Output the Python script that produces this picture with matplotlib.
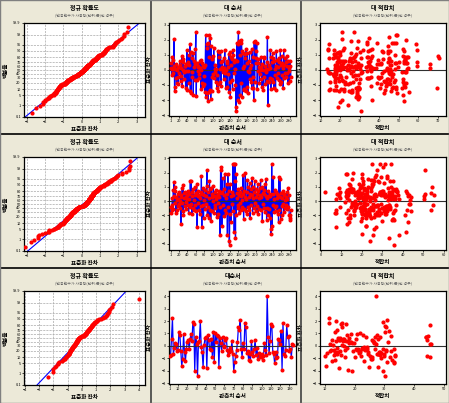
import matplotlib
matplotlib.use('Agg')
import matplotlib.pyplot as plt
from matplotlib.lines import Line2D
import numpy as np
from statistics import NormalDist

plt.rcParams['font.family'] = ['Noto Sans CJK KR', 'DejaVu Sans']

# standardized residuals in observation order, three models
resid1 = [
    0.12, 0.46, -0.31, 0.05, 0.83, -0.18, 0.64, 0.27, 2.02, -1.38, -1.12, 0.09, -0.57, 0.38, -0.86, -0.03, 0.21, -0.44, -0.95, 0.16,
    -0.22, 0.58, 0.33, -0.76, 0.14, -0.41, 0.91, -1.07, 0.49, 0.02, 0.71, -0.13, -0.62, 0.24, 0.24, -1.21, 0.37, -0.08, 1.29, -1.33,
    0.52, -0.06, -0.88, 0.97, 0.31, 1.68, -1.41, 1.18, -1.52, 0.79, -0.15, -0.47, 1.09, -1.63, 0.61, 0.19, 0.42, -0.69, 1.36, 2.51,
    -1.71, 0.45, -0.66, 0.26, -0.09, 0.21, -0.28, -0.54, 0.57, 0.11, 0.68, -1.26, -0.02, -0.84, 0.48, -1.09, 0.23, -0.93, 0.17, -0.39,
    -1.44, 0.29, 2.31, -1.82, 1.42, 1.73, -1.53, 1.81, -2.09, 0.86, -1.49, 2.28, -1.31, 2.12, -1.92, 1.61, -1.37, 0.74, -0.48, 0.89,
    -0.27, 1.47, -0.52, 0.06, -0.17, 0.32, -0.78, 0.08, -1.17, -0.36, -0.91, 1.27, -1.39, 0.87, 1.19, 0.07, -0.79, 1.24, -1.08, 0.53,
    0.18, 0.62, -0.12, -0.04, 0.11, -0.59, 0.76, 1.32, -0.23, 0.02, -1.19, 0.43, -1.13, 0.56, 0.19, -0.29, 1.08, -1.43, -0.77, 1.16,
    -1.79, 0.88, 0.34, -0.67, 0.72, -1.28, 1.34, 1.01, 0.51, -0.21, 0.04, 0.63, -1.01, -2.48, -2.71, 1.79, 0.58, -2.01, 1.69, 2.49,
    -2.12, 1.88, -1.67, 0.96, 1.77, -0.89, 1.97, 1.26, -1.81, 1.14, 0.14, -1.29, 0.28, -1.34, 1.03, 0.77, -1.42, 1.39, 0.47, -1.16,
    1.12, -1.51, -0.08, 0.59, -0.16, 1.21, -0.61, 0.12, -0.82, 0.32, -1.22, 1.41, -0.49, 0.84, -1.18, -1.98, 1.83, -0.81, 1.91, 0.46,
    0.79, 1.28, 1.78, -1.27, 0.44, -0.06, 0.75, 0.17, -0.87, -0.03, -0.26, 0.22, 0.88, -0.58, -1.11, 0.36, 0.01, -1.32, 0.82, -0.46,
    0.78, 0.27, -0.92, 0.07, -0.14, -0.74, 0.55, 2.19, -2.29, 0.04, -0.79, 0.31, 0.13, -0.51, 1.31, -1.24, 0.86, -0.63, 0.49, 1.13,
    -0.83, 0.81, -1.23, 0.57, -0.33, 0.09, -1.36, 0.25, 1.22, -0.53, 0.64, -0.18, 0.18, 0.79, -0.64, 0.52, -0.94, 1.33, 0.29, -0.81,
    0.91, -0.32, 0.47, 0.12, -1.19, 1.29, -0.56, 0.34, -0.21, 0.77, 0.53, -0.47, 0.92, -0.19, 0.26, -0.88, 0.61, -0.07, 0.14, -0.76,
    0.58, 0.24, -0.45,
]
fits1 = [
    17.2, 21.5, 29.4, 44.8, 53.1, 17.6, 25.3, 35.2, 20.9, 28.9, 48.5, 13.4, 33.8, 41.2, 52.6, 18.3, 26.1, 39.5, 45.6, 22.8,
    14.1, 19.4, 30.6, 42.7, 54.8, 17.0, 27.4, 36.1, 50.4, 24.6, 18.9, 31.2, 44.1, 59.3, 21.2, 28.2, 38.7, 46.3, 16.8, 25.9,
    34.5, 45.2, 53.7, 19.8, 29.6, 14.5, 22.1, 41.8, 49.3, 26.8, 18.1, 35.6, 44.5, 52.1, 20.3, 28.5, 40.2, 47.9, 13.6, 21.0,
    29.1, 54.5, 17.5, 25.0, 42.3, 33.5, 45.8, 19.1, 27.9, 36.8, 53.4, 14.9, 23.7, 39.1, 48.9, 17.8, 30.1, 44.3, 20.6, 26.4,
    55.2, 18.6, 49.1, 29.2, 21.8, 33.9, 28.6, 47.6, 52.9, 17.4, 25.6, 48.7, 14.3, 34.9, 29.0, 44.7, 19.6, 42.0, 23.2, 36.4,
    16.6, 28.7, 39.8, 45.4, 53.9, 20.5, 26.7, 35.1, 51.6, 17.1, 24.2, 41.5, 46.1, 19.0, 30.4, 54.1, 22.4, 34.2, 43.6, 18.4,
    27.0, 45.9, 13.8, 20.1, 38.4, 52.3, 25.1, 31.8, 44.9, 17.9, 29.8, 40.8, 53.3, 21.7, 35.8, 47.1, 16.9, 26.2, 43.0, 19.3,
    28.3, 55.0, 34.7, 20.8, 45.3, 29.5, 21.3, 17.3, 44.6, 14.6, 24.8, 39.3, 52.7, 18.7, 30.8, 46.7, 22.6, 36.6, 59.0, 26.9,
    20.0, 29.3, 28.8, 48.2, 48.8, 29.7, 53.6, 44.4, 29.9, 25.4, 21.4, 48.6, 34.4, 17.7, 28.0, 45.0, 24.4, 36.2, 53.0, 29.4,
    18.2, 42.5, 26.5, 35.4, 51.9, 19.7, 30.2, 44.2, 14.7, 23.9, 40.5, 52.4, 17.6, 27.2, 46.5, 21.1, 34.0, 43.3, 25.7, 53.8,
    16.4, 45.7, 38.9, 20.4, 29.0, 33.6, 53.2, 21.6, 25.2, 44.0, 18.0, 49.6, 34.3, 28.4, 46.9, 66.2, 17.4, 42.9, 54.3, 20.7,
    14.2, 27.6, 41.1, 48.4, 53.5, 19.2, 35.0, 45.1, 24.0, 30.0, 52.2, 17.3, 28.1, 39.9, 59.6, 21.9, 33.7, 44.8, 26.0, 18.5,
    47.5, 36.0, 29.7, 53.4, 20.2, 44.1, 17.1, 25.5, 52.8, 34.6, 24.9, 41.7, 18.8, 30.5, 45.5, 59.2, 22.3, 35.3, 46.0, 17.6,
    70.4, 27.8, 48.3, 20.9, 69.9, 13.9, 34.1, 45.8, 25.8, 70.8, 19.5, 41.0, 52.0, 30.7, 18.1, 44.9, 24.5, 35.7, 66.0, 21.3,
    53.0, 28.3, 46.4,
]

resid2 = [
    -0.41, -0.83, -0.62, -0.27, 0.18, -0.55, 0.79, 0.36, 1.31, -0.12, 1.02, 0.68, -0.84, 0.29, -0.66, 0.07, -0.38, 0.51, 0.14, -0.23,
    0.63, -0.49, 0.02, 0.31, -1.61, 0.44, -0.16, 0.92, -0.71, 1.12, -1.01, 0.53, 0.21, -0.35, 0.61, -0.09, 0.26, -0.58, 0.11, 0.39,
    -0.28, 0.74, -0.87, 0.17, 0.49, -0.42, 1.41, -0.19, 1.38, 0.33, -0.93, 0.64, -0.52, 0.83, 0.06, -0.64, 0.41, -0.31, 0.96, -0.73,
    0.54, 1.22, -1.83, 0.32, -0.14, 0.72, -0.61, 0.43, -0.94, 0.22, 0.62, -0.37, 1.79, -1.81, 0.52, -0.26, 0.91, -1.19, 0.41, 0.08,
    -0.53, 0.81, -0.18, 0.34, 1.03, 2.21, -1.02, 0.62, -0.43, 0.19, -1.22, 1.42, -0.63, 0.84, -1.43, 0.89, 0.27, -0.71, 0.52, -0.01,
    1.08, -0.82, 0.38, -0.29, 0.61, -0.51, 0.16, 0.77, -1.11, 0.37, -0.17, 0.48, -0.91, 0.28, 0.69, -0.41, -2.39, 2.18, 0.53, 2.42,
    -1.79, 0.61, 1.59, -0.31, 0.88, -1.04, 0.43, 1.92, -0.62, 0.21, -0.83, 0.51, 1.19, -2.41, 1.88, -0.39, 0.72, -2.79, -3.08, 1.21,
    -0.91, 0.32, -1.51, 0.63, -0.21, 0.42, 2.58, -0.73, 2.61, -2.19, 1.39, 2.62, -2.58, 1.91, -1.01, 0.54, 0.18, -0.52, 0.83, -0.28,
    0.41, -0.81, 0.62, -0.17, 0.33, -0.63, 0.92, 0.09, -0.42, 0.52, 1.81, -1.29, 0.71, -0.54, 0.29, 1.98, -0.72, 0.16, -0.92, 0.61,
    1.48, -0.39, 1.01, 0.27, -0.61, 1.29, -1.18, 0.52, 0.82, -0.27, 0.43, 1.62, -0.81, 0.18, 1.02, -0.49, 0.63, 1.39, -0.16, 0.88,
    -0.69, 0.31, 0.52, -0.38, 1.19, -0.88, 0.71, 0.19, -0.59, 0.42, 0.93, 1.49, -0.62, 0.28, 0.98, -1.39, 0.59, -0.18, 0.81, -0.51,
    0.49, 1.21, -0.79, 0.37, 1.58, -1.31, 0.22, -0.48, 0.69, -0.98, 0.33, -0.57, 0.51, -1.19, 0.38, -2.31, -1.99, 2.59, -1.79, 0.52,
    -0.29, 1.69, -0.78, 0.12, -0.41, 0.79, -0.32, 0.61, -0.68, 0.19, 0.52, -0.89, 0.41, -1.51, 1.71, -0.61, 1.58, 0.29, -1.29, 0.58,
    -0.99, 0.21, -0.38, 0.69, -0.19, 0.41, -0.79, 0.49, 0.08, -0.51, 0.31, -0.29, 0.62, -0.59, 0.17, 0.91, -0.42, 0.39, -0.98, -1.21,
    -1.31, -0.99, -0.61,
]
fits2 = [
    19.5, 7.2, 25.4, 33.1, 12.8, 21.6, 36.2, 9.0, 28.4, 15.3, 22.9, 41.3, 7.0, 19.0, 31.8, 13.5, 26.2, 34.7, 20.4, 43.6,
    2.0, 16.8, 24.1, 35.5, 12.6, 29.3, 20.8, 8.9, 32.4, 14.1, 23.2, 42.2, 18.3, 27.5, 36.9, 11.9, 21.2, 33.8, 7.3, 25.7,
    15.8, 30.5, 19.9, 38.1, 12.9, 24.6, 35.1, 17.6, 28.0, 50.3, 20.1, 9.1, 33.3, 14.6, 26.6, 41.8, 22.3, 36.5, 19.3, 31.0,
    13.2, 25.0, 7.5, 34.2, 21.0, 29.9, 16.2, 43.1, 23.5, 35.8, 12.4, 20.6, 32.1, 26.9, 18.7, 54.8, 14.8, 24.3, 37.6, 21.9,
    30.9, 12.7, 22.5, 34.5, 19.6, 27.2, 41.0, 15.1, 9.2, 33.6, 20.2, 25.9, 36.3, 13.8, 29.6, 18.9, 23.8, 44.0, 31.5, 16.5,
    24.8, 35.2, 12.3, 21.4, 28.8, 19.2, 33.0, 14.4, 26.0, 42.6, 20.9, 7.8, 31.3, 23.0, 36.7, 17.3, 25.3, 50.8, 13.0, 30.3,
    22.1, 34.9, 19.8, 27.8, 15.6, 24.0, 33.7, 12.5, 21.3, 36.0, 29.1, 17.0, 25.6, 38.0, 20.0, 31.7, 14.3, 23.7, 35.9, 18.5,
    26.4, 32.7, 13.7, 22.7, 29.4, 19.4, 34.0, 16.0, 24.9, 41.6, 20.5, 28.6, 33.4, 12.2, 21.7, 53.6, 18.2, 25.1, 36.6, 14.9,
    30.1, 22.0, 34.4, 19.1, 27.0, 13.3, 24.4, 32.9, 20.7, 9.0, 26.8, 35.4, 17.9, 23.3, 31.2, 15.4, 28.2, 36.4, 21.1, 12.6,
    25.2, 33.9, 19.7, 43.9, 23.9, 30.7, 14.0, 21.5, 35.0, 27.3, 18.0, 32.2, 12.1, 24.7, 54.2, 20.3, 29.0, 33.5, 15.9, 22.6,
    35.7, 19.0, 26.3, 31.6, 13.6, 23.4, 37.2, 20.6, 28.3, 16.4, 32.5, 24.2, 7.4, 21.8, 34.3, 19.5, 29.7, 42.9, 14.7, 25.5,
    33.2, 20.4, 27.6, 12.9, 22.8, 35.6, 18.4, 30.0, 24.5, 16.1, 32.8, 21.3, 28.1, 13.4, 36.1, 19.9, 25.8, 31.4, 22.2, 51.0,
    17.1, 29.5, 23.6, 34.6, 14.5, 20.9, 27.1, 33.0, 19.3, 24.0, 12.8, 31.9, 21.6, 42.4, 26.5, 53.9, 15.0, 23.1, 35.3, 20.1,
    28.5, 9.3, 32.3, 18.6, 25.4, 13.1, 22.4, 30.6, 43.4, 19.4, 26.1, 33.1, 16.7, 24.1, 50.5, 21.0, 30.8, 55.0, 14.2, 22.0,
    34.8, 27.4, 20.3,
]

resid3 = [
    -0.82, -0.77, 0.58, 2.21, -0.68, -0.17, 0.26, 0.14, -0.43, -0.31, 1.09, 0.87, -0.38, -1.62, -1.03, 0.92, -0.52, -1.21, -0.22, 0.33,
    0.47, -0.28, 0.54, 0.98, 0.36, 1.91, 1.78, -2.02, 0.69, 0.18, -2.41, 0.29, 0.42, 1.99, -0.13, -0.48, -1.71, 0.03, 0.62, 0.73,
    -1.79, 0.88, 0.51, -0.27, -0.36, 0.59, -0.92, 1.12, -1.28, 1.07, 0.31, 0.91, 0.78, -1.69, 0.67, 0.21, -0.41, 0.72, -0.08, 0.02,
    0.49, 0.61, -0.33, -0.71, -0.53, -0.19, -0.44, 0.39, -0.62, -2.01, -1.32, -0.83, -0.37, 0.28, 1.52, 1.31, 2.09, -0.24, -0.88, 0.27,
    -0.29, 1.88, 1.49, -0.58, -0.42, -1.11, -0.63, -1.19, 0.41, -0.47, -0.79, -0.26, 0.46, -0.73, -0.16, -1.08, -0.57, -0.84, -0.91, -0.69,
    -1.13, -0.81, 0.23, -0.34, -0.76, 4.02, 0.71, -0.61, 0.37, 1.79, 1.61, -0.49, -0.64, -1.41, -0.98, -0.51, -0.93, 0.57, 0.48, 0.17,
    1.21, -1.92, 1.81, -0.67, -0.78, -0.32, 1.69, 0.68, 0.82, -0.39, -0.28, -0.89, 0.11, 0.06,
]
fits3 = [
    10.1, 12.9, 16.4, 11.3, 24.6, 14.2, 19.1, 27.3, 21.4, 13.0, 30.2, 17.5, 15.1, 10.3, 25.5, 18.6, 28.2, 12.3, 22.6, 31.4,
    14.7, 26.8, 16.0, 20.9, 13.6, 29.4, 15.3, 19.0, 23.7, 11.8, 30.2, 26.4, 17.9, 13.8, 24.3, 21.9, 28.0, 15.6, 18.2, 27.0,
    14.8, 22.8, 12.4, 29.6, 16.8, 20.3, 25.7, 13.2, 30.9, 21.7, 18.4, 27.6, 32.1, 24.9, 14.5, 19.8, 11.6, 28.7, 23.3, 16.3,
    26.0, 15.0, 20.7, 28.4, 13.4, 22.3, 30.4, 17.2, 27.9, 29.7, 33.4, 25.2, 12.0, 18.8, 30.5, 14.1, 31.0, 21.2, 16.6, 26.6,
    24.1, 11.2, 15.8, 29.0, 19.5, 13.5, 27.4, 23.0, 16.1, 28.6, 30.0, 20.5, 14.9, 33.5, 17.4, 25.9, 10.5, 22.1, 31.9, 13.9,
    32.5, 33.7, 18.0, 30.6, 15.5, 27.2, 44.0, 21.5, 26.3, 17.1, 30.3, 24.4, 29.8, 33.3, 28.9, 14.4, 20.1, 27.7, 44.3, 45.5,
    31.7, 17.7, 15.7, 28.3, 44.5, 23.5, 45.4, 43.9, 44.8, 32.3, 33.1, 45.3, 45.7, 12.6,
]

subtitle = "(반응변수가 사용량(단위:톤)인 경우)"
pct_ticks = [0.1, 1, 5, 10, 20, 30, 40, 50, 60, 70, 80, 90, 95, 99, 99.9]

W, H = 449, 403
BG = '#ECE9D8'
fig = plt.figure(figsize=(W / 100, H / 100), dpi=100, facecolor=BG)
nd = NormalDist()


def add_ax(px, py, pw, ph):
    return fig.add_axes([px / W, 1 - (py + ph) / H, pw / W, ph / H])


def style(ax, title, xlab, ylab):
    ax.set_facecolor('white')
    for s in ax.spines.values():
        s.set_linewidth(0.9)
        s.set_color('black')
    ax.tick_params(labelsize=2.8, length=1.5, width=0.5, pad=0.8)
    ax.text(0.5, 1.165, title, transform=ax.transAxes, ha='center', va='center',
            fontsize=4.3, fontweight='bold')
    ax.text(0.5, 1.085, subtitle, transform=ax.transAxes, ha='center', va='center',
            fontsize=2.8, color='#666666')
    ax.set_xlabel(xlab, fontsize=4, fontweight='bold')
    ax.set_ylabel(ylab, fontsize=4, fontweight='bold')
    ax.xaxis.set_label_coords(0.5, -0.11)
    ax.yaxis.set_label_coords(-0.13, 0.5)


def qq_plot(ax, r, xticks, xlim):
    r = np.sort(np.asarray(r))
    n = len(r)
    z = np.array([nd.inv_cdf((i - 0.3) / (n + 0.4)) for i in range(1, n + 1)])
    mu, sd = r.mean(), r.std(ddof=1)
    ax.set_yticks([nd.inv_cdf(p / 100) for p in pct_ticks])
    ax.set_yticklabels([f'{p:g}' for p in pct_ticks])
    ax.set_xticks(xticks)
    ax.grid(True, color='#A8A8A8', lw=0.5, ls=(0, (3, 1.5)))
    ax.set_axisbelow(True)
    xs = np.array(xlim)
    ax.plot(xs, (xs - mu) / sd, color='blue', lw=0.8, zorder=2)
    ax.plot(r, z, 'o', color='red', ms=2.0, mec='red', zorder=3)
    ax.set_xlim(xlim)
    ax.set_ylim(nd.inv_cdf(0.001), nd.inv_cdf(0.999))


def order_plot(ax, r, xticks, xlim, ylim, yticks):
    obs = np.arange(1, len(r) + 1)
    ax.plot(obs, r, color='blue', lw=0.9, zorder=2)
    ax.axhline(0, color='#303030', lw=0.8, zorder=2.5)
    ax.plot(obs, r, 'o', color='red', ms=1.9, mec='red', zorder=3)
    ax.set_xticks(xticks)
    ax.set_yticks(yticks)
    ax.set_xlim(xlim)
    ax.set_ylim(ylim)


def fits_plot(ax, f, r, xticks, xlim, ylim, yticks):
    ax.axhline(0, color='#303030', lw=0.8, zorder=1)
    ax.plot(f, r, 'o', color='red', ms=2.0, mec='red', zorder=2)
    ax.set_xticks(xticks)
    ax.set_yticks(yticks)
    ax.set_xlim(xlim)
    ax.set_ylim(ylim)


rows = [
    (0, resid1, fits1, [-3, -2, -1, 0, 1, 2, 3], (-3.15, 3.45),
     [1] + list(range(20, 281, 20)), (-3, 295), (-3.05, 3.1), list(range(-3, 4)),
     list(range(10, 71, 10)), (9.7, 74.3), '대 순서'),
    (134, resid2, fits2, [-3, -2, -1, 0, 1, 2, 3], (-3.15, 3.45),
     [1] + list(range(20, 281, 20)), (-3, 295), (-3.45, 3.1), list(range(-3, 4)),
     list(range(0, 61, 10)), (-0.5, 61.1), '대 순서'),
    (268, resid3, fits3, list(range(-4, 5)), (-4.07, 4.43),
     [1] + list(range(10, 131, 10)), (0.3, 137), (-3.08, 4.43), list(range(-3, 5)),
     list(range(10, 51, 10)), (8.3, 50.8), '대순서'),
]

for (top, r, f, qx, qxl, ox, oxl, yl, yt, fx, fxl, otitle) in rows:
    ax = add_ax(24, top + 23, 121, 94)
    qq_plot(ax, r, qx, qxl)
    style(ax, '정규 확률도', '표준화 잔차', '백분율')

    ax = add_ax(150 + 19, top + 23, 127, 93)
    order_plot(ax, r, ox, oxl, yl, yt)
    style(ax, otitle, '관측치 순서', '표준화 잔차')

    ax = add_ax(300 + 20, top + 23, 126, 93)
    fits_plot(ax, f, r, fx, fxl, yl, yt)
    style(ax, '대 적합치', '적합치', '표준화 잔차')

# panel separators
for x in (151, 301):
    fig.add_artist(Line2D([x / W, x / W], [0, 1], color='#404040', lw=1.2))
for y in (134, 268):
    fig.add_artist(Line2D([0, 1], [1 - y / H, 1 - y / H], color='black', lw=1.2))
fig.add_artist(Line2D([0, 0, 1, 1, 0], [0, 1, 1, 0, 0], color='#808080', lw=1.0))

fig.savefig('out.png', dpi=100, facecolor=BG)
